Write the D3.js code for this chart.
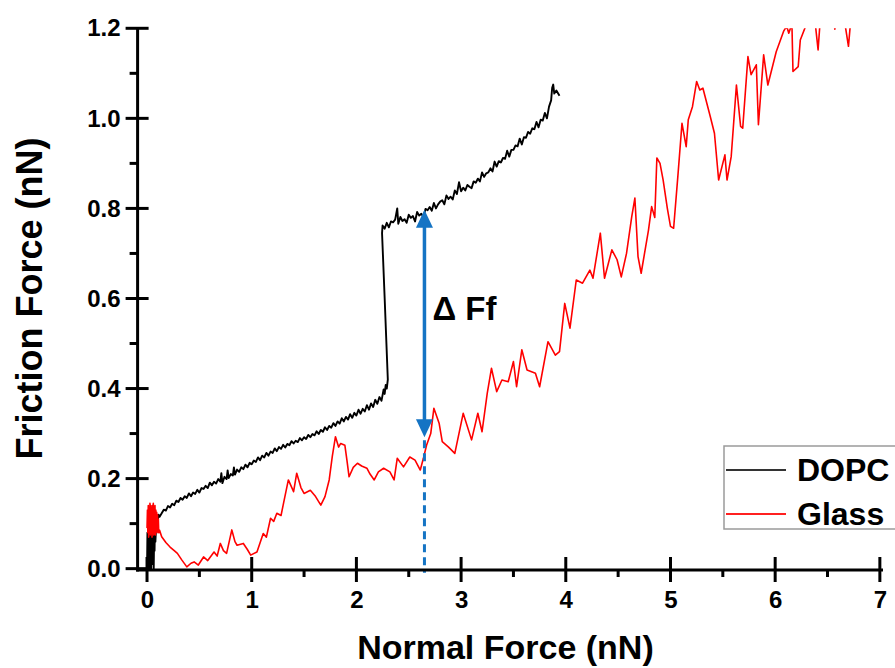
<!DOCTYPE html>
<html>
<head>
<meta charset="utf-8">
<script src="https://cdn.jsdelivr.net/npm/d3@7"></script>
<style>
  html, body { margin: 0; padding: 0; background: #fff; }
  svg { display: block; color: #000; }
  text { font-family: "Liberation Sans", Arial, sans-serif; font-weight: bold; }
</style>
</head>
<body>
<svg id="chart" width="895" height="668"></svg>
<script>
// ---------- data ----------
const xTicks = [0, 1, 2, 3, 4, 5, 6, 7];
const xMinorTicks = [0.5, 1.5, 2.5, 3.5, 4.5, 5.5, 6.5];
const yTicks = [0.0, 0.2, 0.4, 0.6, 0.8, 1.0, 1.2];
const yMinorTicks = [0.1, 0.3, 0.5, 0.7, 0.9, 1.1];
const seriesNames = ["DOPC", "Glass"];
const seriesColors = ["#000000", "#ff0000"];

const dopcX = [0.000,0.004,0.008,0.012,0.016,0.020,0.024,0.028,0.032,0.036,0.040,0.044,0.048,0.052,0.056,0.060,0.064,0.068,0.072,0.076,0.080,0.090,0.100,0.110,0.120,
  0.14,0.16,0.18,0.20,0.22,0.24,0.26,0.28,0.30,0.32,0.34,0.36,0.38,0.40,0.42,0.44,0.46,0.48,0.50,0.52,0.54,0.56,0.58,0.60,
  0.62,0.64,0.66,0.68,0.70,0.71,0.72,0.74,0.76,0.77,0.78,0.80,0.82,0.83,0.84,0.86,0.88,0.90,0.92,0.94,0.96,0.98,1.00,
  1.02,1.04,1.06,1.08,1.10,1.12,1.14,1.16,1.18,1.20,1.22,1.24,1.26,1.28,1.30,1.32,1.34,1.36,1.38,1.40,1.42,1.44,1.46,
  1.48,1.50,1.52,1.54,1.56,1.58,1.60,1.62,1.64,1.66,1.68,1.70,1.72,1.74,1.76,1.78,1.80,1.82,1.84,1.86,1.88,1.90,1.92,
  1.94,1.96,1.98,2.00,2.02,2.04,2.06,2.08,2.10,2.12,2.14,2.16,2.18,2.20,2.22,2.24,2.26,2.27,2.28,2.29,2.30,
  2.27,2.245,
  2.25,2.27,2.29,2.31,2.33,2.35,2.37,2.39,2.40,2.42,2.44,2.46,2.48,2.50,2.52,2.54,2.56,2.58,2.60,2.62,2.64,2.66,2.68,
  2.70,2.72,2.74,2.76,2.78,2.80,2.82,2.84,2.86,2.88,2.90,2.92,2.94,2.96,2.98,3.00,3.02,3.04,3.06,3.08,3.10,3.12,3.14,
  3.16,3.18,3.20,3.22,3.24,3.26,3.28,3.30,3.32,3.34,3.36,3.38,3.40,3.42,3.44,3.46,3.48,3.50,3.52,3.54,3.56,3.58,3.60,
  3.62,3.64,3.66,3.68,3.70,3.72,3.74,3.76,3.78,3.80,3.82,3.84,3.86,3.87,3.88,3.89,3.91,3.94];
const dopcY = [0.00,0.08,0.00,0.09,0.01,0.07,0.00,0.10,0.02,0.09,0.00,0.08,0.01,0.10,0.03,0.09,0.00,0.08,0.04,0.10,0.06,0.11,0.10,0.12,0.115,
  0.123,0.131,0.129,0.139,0.136,0.144,0.141,0.151,0.148,0.157,0.153,0.161,0.157,0.167,0.161,0.169,0.166,0.175,0.169,0.179,0.177,0.184,0.179,0.191,
  0.185,0.193,0.189,0.199,0.193,0.212,0.190,0.204,0.199,0.218,0.201,0.210,0.207,0.225,0.209,0.220,0.215,0.225,0.221,0.231,0.225,0.235,0.232,
  0.240,0.237,0.247,0.241,0.251,0.247,0.257,0.251,0.260,0.257,0.267,0.261,0.270,0.266,0.275,0.269,0.277,0.274,0.283,0.278,0.284,0.281,0.290,
  0.285,0.292,0.288,0.297,0.292,0.299,0.296,0.305,0.299,0.308,0.304,0.314,0.308,0.317,0.313,0.323,0.317,0.327,0.322,0.334,0.327,0.337,0.331,
  0.343,0.335,0.346,0.340,0.353,0.344,0.355,0.349,0.363,0.353,0.367,0.359,0.375,0.366,0.381,0.373,0.398,0.388,0.408,0.400,0.420,
  0.600,0.745,
  0.762,0.755,0.768,0.758,0.771,0.769,0.775,0.800,0.766,0.781,0.772,0.776,0.768,0.786,0.779,0.783,0.771,0.792,0.784,0.788,0.781,0.799,0.796,
  0.803,0.795,0.812,0.800,0.809,0.815,0.818,0.809,0.829,0.821,0.826,0.820,0.840,0.832,0.858,0.838,0.846,0.840,0.852,0.848,0.845,0.860,0.857,
  0.866,0.860,0.880,0.870,0.878,0.880,0.889,0.882,0.904,0.893,0.905,0.902,0.912,0.910,0.928,0.915,0.930,0.930,0.940,0.938,0.955,0.942,0.958,
  0.957,0.970,0.966,0.978,0.976,0.992,0.980,0.997,0.995,1.012,1.000,1.026,1.040,1.068,1.075,1.055,1.062,1.050];

const glassX = [0.000,0.004,0.008,0.012,0.016,0.020,0.024,0.028,0.032,0.036,0.040,0.044,0.048,0.052,0.056,0.060,0.064,0.068,0.072,0.076,0.080,0.084,0.088,0.092,0.096,0.100,0.104,0.108,0.112,
  0.12,0.14,0.18,0.22,0.26,0.29,0.33,0.38,0.42,0.45,0.49,0.54,0.58,0.64,0.67,0.70,0.73,0.76,0.81,0.84,0.86,0.92,0.96,
  0.99,1.05,1.11,1.14,1.18,1.21,1.24,1.28,1.31,1.35,1.40,1.43,1.47,1.50,1.56,1.61,1.66,1.70,1.74,1.77,1.80,1.83,1.85,
  1.89,1.91,1.93,1.97,2.01,2.05,2.10,2.13,2.17,2.21,2.26,2.32,2.36,2.39,2.45,2.51,2.56,2.61,2.64,2.67,2.71,2.74,2.79,
  2.82,2.88,2.94,3.02,3.10,3.16,3.20,3.25,3.29,3.34,3.39,3.45,3.50,3.53,3.58,3.63,3.71,3.75,3.83,3.90,3.94,3.99,4.04,
  4.10,4.16,4.23,4.26,4.33,4.37,4.44,4.49,4.53,4.58,4.63,4.66,4.69,4.72,4.79,4.82,4.85,4.87,4.90,4.93,4.97,5.00,5.03,
  5.07,5.11,5.15,5.17,5.21,5.25,5.28,5.31,5.38,5.42,5.46,5.52,5.54,5.58,5.63,5.67,5.69,5.74,5.77,5.82,5.84,5.89,5.93,
  6.01,6.08,6.11,6.13,6.16,6.17,6.22,6.24,6.30,6.36,6.41,6.44,6.52,6.57,6.62,6.70,6.73];
const glassY = [0.09,0.13,0.08,0.14,0.07,0.13,0.08,0.145,0.075,0.14,0.08,0.135,0.07,0.14,0.085,0.145,0.075,0.13,0.08,0.14,0.075,0.13,0.085,0.125,0.08,0.12,0.085,0.11,0.08,
  0.085,0.071,0.058,0.048,0.040,0.034,0.020,0.004,0.012,0.015,0.008,0.026,0.018,0.037,0.028,0.056,0.040,0.034,0.086,0.060,0.052,0.056,0.042,
  0.030,0.037,0.078,0.070,0.112,0.105,0.123,0.118,0.152,0.197,0.171,0.212,0.180,0.167,0.174,0.160,0.141,0.160,0.197,0.250,0.293,0.270,0.278,
  0.274,0.240,0.204,0.225,0.234,0.228,0.223,0.210,0.197,0.215,0.223,0.215,0.197,0.245,0.226,0.248,0.241,0.219,0.245,0.274,0.300,0.356,0.323,
  0.282,0.270,0.256,0.345,0.286,0.345,0.304,0.390,0.445,0.393,0.419,0.415,0.460,0.404,0.486,0.441,0.434,0.404,0.504,0.474,0.482,0.589,0.534,
  0.641,0.634,0.663,0.645,0.745,0.645,0.708,0.686,0.648,0.700,0.782,0.823,0.693,0.656,0.752,0.804,0.780,0.912,0.900,0.863,0.800,0.760,0.756,
  0.870,0.989,0.937,0.997,1.026,1.082,1.063,1.067,1.004,0.967,0.863,0.919,0.863,0.915,1.074,0.982,0.978,1.137,1.097,1.119,0.986,1.141,1.074,
  1.148,1.193,1.205,1.189,1.210,1.104,1.115,1.174,1.210,1.260,1.152,1.250,1.300,1.198,1.280,1.160,1.240];

// annotation: friction difference at a given normal force
const deltaAt = 2.65;
const deltaTop = 0.797;
const deltaBottom = 0.292;
const deltaLabel = "\u0394 Ff";

// ---------- chart ----------
const svg = d3.select("#chart");
const x = d3.scaleLinear().domain([-0.09, 7.03]).range([137.6, 883]);
const y = d3.scaleLinear().domain([-0.003, 1.2]).range([570, 28.3]);
const x0 = x.range()[0];
const yBase = y(-0.003);

svg.append("defs").append("clipPath").attr("id", "plotclip")
  .append("rect")
  .attr("x", x0).attr("y", y(1.2))
  .attr("width", x.range()[1] - x0)
  .attr("height", yBase - y(1.2));

const line = d3.line().x(d => x(d[0])).y(d => y(d[1]));
const dopc = dopcX.map((v, i) => [v, dopcY[i]]);
const glass = glassX.map((v, i) => [v, glassY[i]]);

const plot = svg.append("g").attr("clip-path", "url(#plotclip)");
plot.append("path").datum(dopc).attr("d", line)
  .attr("fill", "none").attr("stroke", seriesColors[0]).attr("stroke-width", 1.9).attr("stroke-linejoin", "round");
plot.append("path").datum(glass).attr("d", line)
  .attr("fill", "none").attr("stroke", seriesColors[1]).attr("stroke-width", 1.6).attr("stroke-linejoin", "round");

// annotation arrow
const blue = "#1574c4";
const ax = x(deltaAt);
svg.append("line").attr("x1", ax).attr("x2", ax).attr("y1", y(deltaTop) + 14).attr("y2", y(deltaBottom) - 14)
  .attr("stroke", blue).attr("stroke-width", 3.5);
svg.append("path").attr("d", `M${ax},${y(deltaTop)} L${ax - 8.5},${y(deltaTop) + 18} L${ax + 8.5},${y(deltaTop) + 18} Z`).attr("fill", blue);
svg.append("path").attr("d", `M${ax},${y(deltaBottom)} L${ax - 8.5},${y(deltaBottom) - 18} L${ax + 8.5},${y(deltaBottom) - 18} Z`).attr("fill", blue);
svg.append("line").attr("x1", ax).attr("x2", ax).attr("y1", y(deltaBottom) + 3).attr("y2", y(0) + 4)
  .attr("stroke", blue).attr("stroke-width", 3).attr("stroke-dasharray", "8,5");
svg.append("text").attr("x", ax + 8).attr("y", y(0.553)).attr("font-size", 33).attr("fill", "#000").text(deltaLabel);

// axis titles
svg.append("text").attr("x", (x(0) + x(7)) / 2 - 8).attr("y", 659).attr("text-anchor", "middle")
  .attr("font-size", 34).attr("fill", "#000").text("Normal Force (nN)");
svg.append("text").attr("transform", `translate(42,${(y(0) + y(1.2)) / 2}) rotate(-90)`).attr("text-anchor", "middle")
  .attr("font-size", 36).attr("fill", "#000").text("Friction Force (nN)");

// legend
const lg = svg.append("g").attr("transform", "translate(724,446)");
lg.append("rect").attr("x", 0).attr("y", 0).attr("width", 190).attr("height", 83)
  .attr("fill", "#fff").attr("stroke", "#9a9a9a").attr("stroke-width", 1.5);
seriesNames.forEach((name, i) => {
  const yy = 24 + i * 44;
  lg.append("line").attr("x1", 2).attr("x2", 62).attr("y1", yy).attr("y2", yy)
    .attr("stroke", i === 0 ? "#333" : "#ff2020").attr("stroke-width", 2);
  lg.append("text").attr("x", 73).attr("y", yy + 11).attr("font-size", 32).attr("fill", "#000").text(name);
});

// axes: d3 axes give the tick labels; axis lines and tick marks placed from the same scales
const fmtY = d3.format(".1f");
const gx = svg.append("g").attr("transform", `translate(0,${yBase})`);
gx.call(d3.axisBottom(x).tickValues(xTicks).tickSize(12).tickPadding(9).tickFormat(d3.format("d")));
gx.select(".domain").remove();
gx.selectAll(".tick line").remove();
gx.selectAll(".tick text").attr("font-size", 24).attr("fill", "#000");

const gy = svg.append("g").attr("transform", `translate(${x0},0)`);
gy.call(d3.axisLeft(y).tickValues(yTicks).tickSize(12).tickPadding(5).tickFormat(fmtY));
gy.select(".domain").remove();
gy.selectAll(".tick line").remove();
gy.selectAll(".tick text").attr("font-size", 24).attr("fill", "#000");

const marks = svg.append("g").attr("stroke", "#000").attr("stroke-width", 3).attr("fill", "none");
marks.append("line").attr("x1", x0).attr("x2", x0).attr("y1", yBase + 1.5).attr("y2", y(1.2));
marks.append("line").attr("x1", x0 - 1.5).attr("x2", x.range()[1]).attr("y1", yBase).attr("y2", yBase);
marks.selectAll("line.ymaj").data(yTicks).join("line").attr("class", "ymaj")
  .attr("x1", x0 - 12).attr("x2", x0 + 11).attr("y1", d => y(d)).attr("y2", d => y(d));
marks.selectAll("line.ymin").data(yMinorTicks).join("line").attr("class", "ymin")
  .attr("x1", x0 - 8).attr("x2", x0).attr("y1", d => y(d)).attr("y2", d => y(d));
marks.selectAll("line.xmaj").data(xTicks).join("line").attr("class", "xmaj")
  .attr("x1", d => x(d)).attr("x2", d => x(d)).attr("y1", yBase - 13).attr("y2", yBase + 12);
marks.selectAll("line.xmin").data(xMinorTicks).join("line").attr("class", "xmin")
  .attr("x1", d => x(d)).attr("x2", d => x(d)).attr("y1", yBase).attr("y2", yBase + 7);
</script>
</body>
</html>
